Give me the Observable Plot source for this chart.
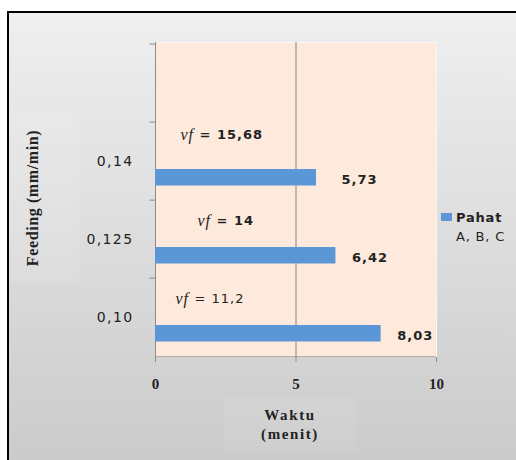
<!DOCTYPE html>
<html><head><meta charset="utf-8">
<script src="https://cdn.jsdelivr.net/npm/d3@7"></script>
<script src="https://cdn.jsdelivr.net/npm/@observablehq/plot@0.6"></script>
<style>
body{margin:0;background:#fff;}
#wrap{position:relative;width:516px;height:460px;overflow:hidden;}
#frame{position:absolute;left:7px;top:11px;width:520px;height:460px;border-left:2px solid #000;border-top:2px solid #000;background:linear-gradient(#efefef,#cacaca);}
#chart{position:absolute;left:0;top:0;}
#ybox{position:absolute;left:9px;top:114px;width:70px;height:168px;background:rgba(255,255,255,0.1);}
#ytitle{position:absolute;left:33px;top:198px;transform:translate(-50%,-50%) rotate(-90deg);white-space:nowrap;font:bold 16px "Liberation Serif",serif;letter-spacing:0.6px;color:#222;}
#xbox{position:absolute;left:224px;top:398px;width:132px;height:53px;background:rgba(255,255,255,0.07);}
#xtitle{position:absolute;left:224px;top:406px;width:132px;text-align:center;font:bold 15px/19px "Liberation Serif",serif;letter-spacing:1.6px;color:#222;}
#legend{position:absolute;left:441px;top:210px;font:13px "DejaVu Sans",sans-serif;color:#222;letter-spacing:0.8px;}
#legend .sw{display:inline-block;width:11px;height:8px;background:#5b96d6;margin-right:4px;vertical-align:1px;}
</style></head><body>
<div id="wrap">
<div id="frame"></div>
<div id="ybox"></div>
<div id="xbox"></div>
<div id="chart"></div>
<div id="ytitle">Feeding (mm/min)</div>
<div id="xtitle">Waktu<br>(menit)</div>
<div id="legend"><div><span class="sw"></span><b>Pahat</b></div><div style="margin-left:15px;margin-top:4px">A, B, C</div></div>
</div>
<script>
const feeding = ["0,14", "0,125", "0,10"];
const waktu = [5.73, 6.42, 8.03];
const waktuLabels = ["5,73", "6,42", "8,03"];
const vfValues = ["15,68", "14", "11,2"];
const xTicks = [0, 5, 10];

const rows = feeding.map((f, i) => ({feeding: f, waktu: waktu[i], label: waktuLabels[i], vf: vfValues[i]}));
const yDomain = ["", ...feeding];

const W = 516, H = 460, mT = 42, mB = 103, mL = 155, mR = 80;
const bw = (H - mT - mB) / yDomain.length;
const barColor = "#5b96d6";
const txt = "#222";

const vfMark = (i, dyv, dxVf, dxEq, bold) => [
  Plot.text([rows[i]], {x: 0, y: "feeding", text: () => "vf", dx: dxVf, dy: dyv, textAnchor: "start",
    fontFamily: "Liberation Serif, serif", fontStyle: "italic", fontSize: 16, fill: txt}),
  Plot.text([rows[i]], {x: 0, y: "feeding", text: d => "= " + d.vf, dx: dxEq, dy: dyv, textAnchor: "start",
    fontFamily: "DejaVu Sans, sans-serif", fontWeight: bold ? "bold" : "normal", fontSize: 13, fill: txt})
];

const valMark = (i, dxv) => Plot.text([rows[i]], {x: "waktu", y: "feeding", text: "label", dx: dxv, dy: 18,
  textAnchor: "start", fontFamily: "DejaVu Sans, sans-serif", fontWeight: "bold", fontSize: 13, fill: txt});

const chart = Plot.plot({
  width: W, height: H,
  marginTop: mT, marginBottom: mB, marginLeft: mL, marginRight: mR,
  style: {background: "transparent", overflow: "visible"},
  x: {domain: [0, 10]},
  y: {type: "band", domain: yDomain, padding: 0},
  marks: [
    Plot.frame({fill: "#fdeadc", stroke: "#fbf6f2"}),
    Plot.ruleX([5], {stroke: "#868686"}),
    Plot.ruleX([0], {stroke: "#8c8c8c"}),
    Plot.ruleY(yDomain, {y: d => d, dy: -bw / 2, x1: -0.2, x2: 0, stroke: "#8c8c8c"}),
    Plot.ruleY([feeding[feeding.length - 1]], {y: d => d, dy: bw / 2, x1: 0, x2: 10, stroke: "#8c8c8c"}),
    Plot.barX(rows, {x: "waktu", y: "feeding", fill: barColor, insetTop: 47, insetBottom: 14.5}),
    Plot.axisY({tickSize: 0, tickPadding: 22, fontSize: 14, fontFamily: "DejaVu Sans, sans-serif", fill: txt, label: null}),
    Plot.axisX({ticks: xTicks, tickSize: 5, tickPadding: 16, fontSize: 15, fontWeight: "bold", fontFamily: "Liberation Serif, serif", stroke: "#8c8c8c", fill: txt, label: null, tickFormat: d => String(d)}),
    ...vfMark(0, -27, 25, 44, true),
    ...vfMark(1, -19, 42, 61, true),
    ...vfMark(2, -19, 20, 39, false),
    valMark(0, 25),
    valMark(1, 16),
    valMark(2, 16)
  ]
});
d3.select(chart).selectAll("g[aria-label='y-axis tick label'] text").attr("letter-spacing", "1.4px");
d3.select(chart).selectAll("g[aria-label='text'] text").attr("letter-spacing", "1px");
document.getElementById("chart").appendChild(chart);
</script>
</body></html>
